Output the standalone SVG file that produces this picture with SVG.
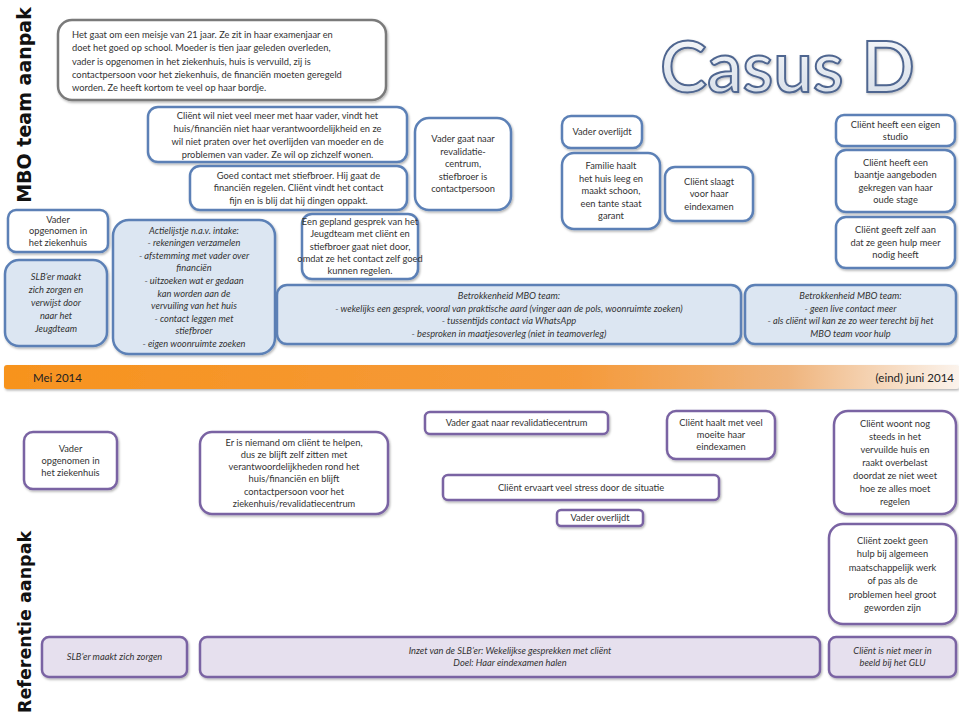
<svg xmlns="http://www.w3.org/2000/svg" width="959" height="718" viewBox="0 0 959 718">
<defs>
<filter id="sh" x="-10%" y="-10%" width="130%" height="140%">
<feDropShadow dx="1" dy="1.5" stdDeviation="1.2" flood-color="#000" flood-opacity="0.3"/>
</filter>
<filter id="tsh" x="-5%" y="-10%" width="115%" height="130%">
<feDropShadow dx="1" dy="1.5" stdDeviation="1" flood-color="#000" flood-opacity="0.25"/>
</filter>
<linearGradient id="bar" x1="0" y1="0" x2="1" y2="0">
<stop offset="0" stop-color="#f7931e"/>
<stop offset="0.6" stop-color="#f59a3a"/>
<stop offset="0.82" stop-color="#efb47c"/>
<stop offset="1" stop-color="#fbf3ec"/>
</linearGradient>
<linearGradient id="title" x1="0" y1="0" x2="0" y2="1">
<stop offset="0" stop-color="#fbfcfd"/>
<stop offset="1" stop-color="#d3dbe6"/>
</linearGradient>
</defs>
<style>
.t{font-family:Lato,"Liberation Sans",sans-serif;font-size:9.3px;fill:#333;text-anchor:middle}
.i{font-style:italic}
.l{text-anchor:start}
.blue{fill:#fff;stroke:#5b80b6;stroke-width:2.5}
.bluef{fill:#dce6f2;stroke:#5b80b6;stroke-width:2.5}
.pur{fill:#fff;stroke:#7a64a3;stroke-width:2.5}
.purf{fill:#e6e0ee;stroke:#7a64a3;stroke-width:2.5}
.gray{fill:#fff;stroke:#7a7a7a;stroke-width:2.5}
.side{font-family:"DejaVu Sans","Liberation Sans",sans-serif;font-weight:bold;font-size:19px;fill:#111;text-anchor:middle}
</style>
<rect width="959" height="718" fill="#fff"/>

<text class="side" transform="translate(31,105) rotate(-90)">MBO team aanpak</text>
<text class="side" transform="translate(31,622) rotate(-90)" style="font-size:17.5px">Referentie aanpak</text>

<text x="660" y="92" font-family="Lato,'Liberation Sans',sans-serif" font-size="72" font-weight="600" textLength="255" lengthAdjust="spacingAndGlyphs" fill="url(#title)" stroke="#4f6690" stroke-width="2" filter="url(#tsh)">Casus D</text>

<g id="timeline">
<rect x="4" y="365" width="955" height="24" rx="3" fill="url(#bar)" filter="url(#sh)"/>
<text class="t l" x="33" y="381.5" style="font-size:11.5px;fill:#222">Mei 2014</text>
<text class="t" x="954" y="381.5" style="font-size:11.5px;text-anchor:end;fill:#222">(eind) juni 2014</text>
</g>

<g id="connectors"></g>

<g id="intro"><rect class="gray" x="58" y="20" width="328" height="80" rx="14" filter="url(#sh)"/>
<text class="t l" x="72" y="38">Het gaat om een meisje van 21 jaar. Ze zit in haar examenjaar en<tspan x="72" y="51.3">doet het goed op school. Moeder is tien jaar geleden overleden,</tspan><tspan x="72" y="64.6">vader is opgenomen in het ziekenhuis, huis is vervuild, zij is</tspan><tspan x="72" y="77.9">contactpersoon voor het ziekenhuis, de financiën moeten geregeld</tspan><tspan x="72" y="91.2">worden. Ze heeft kortom te veel op haar bordje.</tspan></text></g>

<g id="m-wil"><rect class="blue" x="148" y="107" width="259" height="55" rx="10" filter="url(#sh)"/>
<text class="t" x="277.5" y="118.5">Cliënt wil niet veel meer met haar vader, vindt het<tspan x="277.5" y="131.5">huis/financiën niet haar verantwoordelijkheid en ze</tspan><tspan x="277.5" y="144.5">wil niet praten over het overlijden van moeder en de</tspan><tspan x="277.5" y="157.5">problemen van vader. Ze wil op zichzelf wonen.</tspan></text></g>

<g id="m-stiefbroer"><rect class="blue" x="190" y="166" width="217" height="44" rx="10" filter="url(#sh)"/>
<text class="t" x="298.5" y="178.7">Goed contact met stiefbroer. Hij gaat de<tspan x="298.5" y="191.2">financiën regelen. Cliënt vindt het contact</tspan><tspan x="298.5" y="203.7">fijn en is blij dat hij dingen oppakt.</tspan></text></g>

<g id="m-revalidatie"><rect class="blue" x="415" y="118" width="96" height="92" rx="14" filter="url(#sh)"/>
<text class="t" x="463" y="142.2">Vader gaat naar<tspan x="463" y="154.7">revalidatie-</tspan><tspan x="463" y="167.2">centrum,</tspan><tspan x="463" y="179.7">stiefbroer is</tspan><tspan x="463" y="192.2">contactpersoon</tspan></text></g>

<g id="m-overlijdt"><rect class="blue" x="562" y="116" width="80" height="32" rx="9" filter="url(#sh)"/>
<text class="t" x="602" y="135.2">Vader overlijdt</text></g>

<g id="m-familie"><rect class="blue" x="562" y="153" width="98" height="76" rx="12" filter="url(#sh)"/>
<text class="t" x="611" y="169.2">Familie haalt<tspan x="611" y="181.7">het huis leeg en</tspan><tspan x="611" y="194.2">maakt schoon,</tspan><tspan x="611" y="206.7">een tante staat</tspan><tspan x="611" y="219.2">garant</tspan></text></g>

<g id="m-slaagt"><rect class="blue" x="665" y="167" width="88" height="54" rx="10" filter="url(#sh)"/>
<text class="t" x="709" y="184.7">Cliënt slaagt<tspan x="709" y="197.2">voor haar</tspan><tspan x="709" y="209.7">eindexamen</tspan></text></g>

<g id="m-studio"><rect class="blue" x="836" y="115" width="119" height="31" rx="8" filter="url(#sh)"/>
<text class="t" x="895.5" y="127.5">Cliënt heeft een eigen<tspan x="895.5" y="140">studio</tspan></text></g>

<g id="m-baantje"><rect class="blue" x="836" y="150" width="119" height="62" rx="10" filter="url(#sh)"/>
<text class="t" x="895.5" y="165.5">Cliënt heeft een<tspan x="895.5" y="178">baantje aangeboden</tspan><tspan x="895.5" y="190.5">gekregen van haar</tspan><tspan x="895.5" y="203">oude stage</tspan></text></g>

<g id="m-geenhulp"><rect class="blue" x="836" y="217" width="119" height="51" rx="10" filter="url(#sh)"/>
<text class="t" x="895.5" y="233.2">Cliënt geeft zelf aan<tspan x="895.5" y="245.7">dat ze geen hulp meer</tspan><tspan x="895.5" y="258.2">nodig heeft</tspan></text></g>

<g id="m-ziekenhuis"><rect class="blue" x="8" y="210" width="100" height="42" rx="8" filter="url(#sh)"/>
<text class="t" x="58" y="222.7">Vader<tspan x="58" y="234.2">opgenomen in</tspan><tspan x="58" y="245.7">het ziekenhuis</tspan></text></g>

<g id="m-slb"><rect class="bluef" x="5" y="260" width="102" height="86" rx="14" filter="url(#sh)"/>
<text class="t i" x="56" y="280">SLB’er maakt<tspan x="56" y="293">zich zorgen en</tspan><tspan x="56" y="306">verwijst door</tspan><tspan x="56" y="319">naar het</tspan><tspan x="56" y="332">Jeugdteam</tspan></text></g>

<g id="m-actie"><rect class="bluef" x="113" y="220" width="162" height="134" rx="16" filter="url(#sh)"/>
<text class="t i" x="194" y="233.5">Actielijstje n.a.v. intake:<tspan x="194" y="246.1">- rekeningen verzamelen</tspan><tspan x="194" y="258.7">- afstemming met vader over</tspan><tspan x="194" y="271.3">financiën</tspan><tspan x="194" y="283.9">- uitzoeken wat er gedaan</tspan><tspan x="194" y="296.5">kan worden aan de</tspan><tspan x="194" y="309.1">vervuiling van het huis</tspan><tspan x="194" y="321.7">- contact leggen met</tspan><tspan x="194" y="334.3">stiefbroer</tspan><tspan x="194" y="346.9">- eigen woonruimte zoeken</tspan></text></g>

<g id="m-gesprek"><rect class="blue" x="302" y="214" width="116" height="65" rx="10" filter="url(#sh)"/>
<text class="t" x="360" y="225">Een gepland gesprek van het<tspan x="360" y="237.3">Jeugdteam  met cliënt en</tspan><tspan x="360" y="249.6">stiefbroer gaat niet door,</tspan><tspan x="360" y="261.9">omdat ze het contact zelf goed</tspan><tspan x="360" y="274.2">kunnen regelen.</tspan></text></g>

<g id="m-betrokken1"><rect class="bluef" x="277" y="285" width="464" height="59" rx="10" filter="url(#sh)"/>
<text class="t i" x="509" y="299">Betrokkenheid MBO team:<tspan x="509" y="311.5">- wekelijks een gesprek, vooral van praktische aard (vinger aan de pols, woonruimte zoeken)</tspan><tspan x="509" y="324">- tussentijds contact via WhatsApp</tspan><tspan x="509" y="336.5">- besproken in maatjesoverleg (niet in teamoverleg)</tspan></text></g>

<g id="m-betrokken2"><rect class="bluef" x="745" y="285" width="211" height="59" rx="10" filter="url(#sh)"/>
<text class="t i" x="850.5" y="299">Betrokkenheid MBO team:<tspan x="850.5" y="311.5">- geen live contact meer</tspan><tspan x="850.5" y="324">- als cliënt wil kan ze zo weer terecht bij het</tspan><tspan x="850.5" y="336.5">MBO team voor hulp</tspan></text></g>

<g id="r-ziekenhuis"><rect class="pur" x="24" y="432" width="93" height="57" rx="9" filter="url(#sh)"/>
<text class="t" x="70.5" y="451.5">Vader<tspan x="70.5" y="463.5">opgenomen in</tspan><tspan x="70.5" y="475.5">het ziekenhuis</tspan></text></g>

<g id="r-niemand"><rect class="pur" x="200" y="432" width="188" height="82" rx="12" filter="url(#sh)"/>
<text class="t" x="294" y="445.5">Er is niemand om cliënt te helpen,<tspan x="294" y="457.8">dus ze blijft zelf zitten met</tspan><tspan x="294" y="470.1">verantwoordelijkheden rond het</tspan><tspan x="294" y="482.4">huis/financiën en blijft</tspan><tspan x="294" y="494.7">contactpersoon voor het</tspan><tspan x="294" y="507">ziekenhuis/revalidatiecentrum</tspan></text></g>

<g id="r-revalidatie"><rect class="pur" x="425" y="412" width="183" height="22" rx="5" filter="url(#sh)"/>
<text class="t" x="516.5" y="426.3">Vader gaat naar revalidatiecentrum</text></g>

<g id="r-eindexamen"><rect class="pur" x="667" y="411" width="108" height="48" rx="9" filter="url(#sh)"/>
<text class="t" x="721" y="426">Cliënt haalt met veel<tspan x="721" y="438">moeite haar</tspan><tspan x="721" y="450">eindexamen</tspan></text></g>

<g id="r-stress"><rect class="pur" x="443" y="475" width="276" height="25" rx="5" filter="url(#sh)"/>
<text class="t" x="581" y="490.8">Cliënt ervaart veel stress door de situatie</text></g>

<g id="r-overlijdt"><rect class="pur" x="557" y="510" width="86" height="16" rx="4" filter="url(#sh)"/>
<text class="t" x="600" y="521.3">Vader overlijdt</text></g>

<g id="r-woont"><rect class="pur" x="834" y="411" width="122" height="103" rx="14" filter="url(#sh)"/>
<text class="t" x="895" y="426.7">Cliënt woont nog<tspan x="895" y="439.7">steeds in het</tspan><tspan x="895" y="452.7">vervuilde huis en</tspan><tspan x="895" y="465.7">raakt overbelast</tspan><tspan x="895" y="478.7">doordat ze niet weet</tspan><tspan x="895" y="491.7">hoe ze alles moet</tspan><tspan x="895" y="504.7">regelen</tspan></text></g>

<g id="r-zoekt"><rect class="pur" x="829" y="524" width="127" height="100" rx="14" filter="url(#sh)"/>
<text class="t" x="892.5" y="543.5">Cliënt zoekt geen<tspan x="892.5" y="557">hulp bij algemeen</tspan><tspan x="892.5" y="570.5">maatschappelijk werk</tspan><tspan x="892.5" y="584">of pas als de</tspan><tspan x="892.5" y="597.5">problemen heel groot</tspan><tspan x="892.5" y="611">geworden zijn</tspan></text></g>

<g id="r-slb"><rect class="purf" x="42" y="637" width="145" height="40" rx="7" filter="url(#sh)"/>
<text class="t i" x="114.5" y="660">SLB’er maakt zich zorgen</text></g>

<g id="r-inzet"><rect class="purf" x="200" y="637" width="620" height="40" rx="7" filter="url(#sh)"/>
<text class="t i" x="510" y="653.5">Inzet van de SLB’er: Wekelijkse gesprekken met cliënt<tspan x="510" y="666">Doel: Haar eindexamen halen</tspan></text></g>

<g id="r-glu"><rect class="purf" x="829" y="637" width="127" height="40" rx="7" filter="url(#sh)"/>
<text class="t i" x="892.5" y="653.5">Cliënt is niet meer in<tspan x="892.5" y="666">beeld bij het GLU</tspan></text></g>
</svg>
